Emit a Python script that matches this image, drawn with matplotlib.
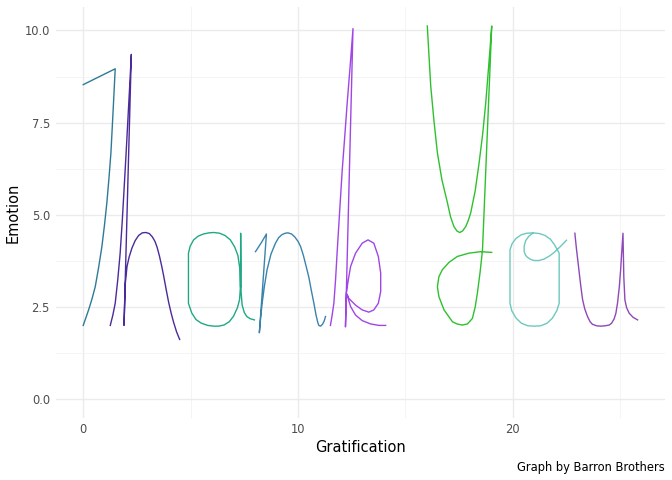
import matplotlib
matplotlib.use("Agg")
import matplotlib.pyplot as plt

# "Thank You" letters
t_x = [0.00, 1.49, 1.45, 1.41, 1.35, 1.29, 1.20, 1.10, 0.99, 0.87, 0.72, 0.56,
       0.40, 0.25, 0.12, 0.00]
t_y = [8.53, 8.96, 8.50, 8.03, 7.35, 6.68, 6.00, 5.32, 4.72, 4.14, 3.58, 3.05,
       2.70, 2.42, 2.20, 2.00]

h_x = [1.26, 1.38, 1.49, 1.61, 1.72, 1.82, 1.91, 2.00, 2.08, 2.16, 2.24, 1.90,
       1.93, 1.96, 2.04, 2.14, 2.27, 2.42, 2.58, 2.75, 2.92, 3.08, 3.22, 3.34,
       3.44, 3.55, 3.65, 3.74, 3.86, 3.98, 4.10, 4.21, 4.35, 4.49]
h_y = [2.00, 2.28, 2.60, 3.25, 3.96, 4.85, 5.77, 6.70, 7.58, 8.45, 9.35, 2.00,
       2.60, 3.14, 3.60, 3.86, 4.10, 4.30, 4.44, 4.51, 4.52, 4.49, 4.40, 4.28,
       4.12, 3.88, 3.62, 3.36, 2.98, 2.62, 2.32, 2.08, 1.82, 1.62]

a_x = [7.32, 7.29, 7.20, 7.05, 6.85, 6.60, 6.35, 6.08, 5.85, 5.60, 5.35, 5.14,
       4.98, 4.90, 4.90, 5.05, 5.25, 5.50, 5.80, 6.08, 6.30, 6.55, 6.80, 7.00,
       7.18, 7.28, 7.32, 7.33, 7.33, 7.35, 7.40, 7.50, 7.62, 7.78, 7.97]
a_y = [3.05, 3.55, 3.90, 4.13, 4.32, 4.44, 4.50, 4.52, 4.51, 4.48, 4.42, 4.32,
       4.15, 3.96, 2.60, 2.34, 2.16, 2.06, 2.00, 1.98, 1.98, 2.01, 2.10, 2.25,
       2.48, 2.70, 3.05, 3.60, 4.50, 2.90, 2.55, 2.35, 2.24, 2.18, 2.15]

n_x = [8.02, 8.30, 8.53, 8.20, 8.26, 8.33, 8.44, 8.56, 8.74, 8.95, 9.10, 9.25,
       9.40, 9.53, 9.70, 9.85, 10.00, 10.12, 10.25, 10.38, 10.50, 10.62, 10.74,
       10.84, 10.92, 10.97, 11.05, 11.14, 11.22, 11.28]
n_y = [4.00, 4.25, 4.48, 1.80, 2.20, 2.60, 3.08, 3.51, 3.93, 4.23, 4.38, 4.46,
       4.50, 4.51, 4.48, 4.40, 4.28, 4.14, 3.90, 3.60, 3.32, 2.95, 2.60,
       2.28, 2.08, 2.00, 1.98, 2.03, 2.12, 2.24]

k_x = [11.51, 11.59, 11.67, 11.75, 11.82, 11.94, 12.06, 12.18, 12.29, 12.43,
       12.56, 12.21, 12.25, 12.34, 12.45, 12.68, 12.99, 13.26, 13.53, 13.74,
       13.85, 13.85, 13.74, 13.53, 13.30, 12.99, 12.68, 12.37, 12.28, 12.36,
       12.45, 12.68, 12.99, 13.38, 13.77, 14.08]
k_y = [2.00, 2.28, 2.60, 3.25, 3.96, 5.10, 6.22, 7.15, 8.03, 9.05,
       10.05, 1.96, 2.87, 3.23, 3.60, 3.96, 4.23, 4.32, 4.23, 3.87,
       3.42, 2.92, 2.60, 2.42, 2.36, 2.42, 2.55, 2.73, 2.85, 2.68,
       2.51, 2.28, 2.13, 2.04, 2.00, 2.00]

y_x = [16.02, 16.10, 16.18, 16.33, 16.49, 16.70, 16.96, 17.10, 17.26, 17.40,
       17.53, 17.66, 17.81, 17.93, 18.04, 18.25, 18.43, 18.60, 18.74, 18.88,
       19.02, 18.59, 18.48, 18.35, 18.25, 18.12, 17.89, 17.65, 17.40, 17.19,
       16.80, 16.56, 16.49, 16.56, 16.72, 17.03, 17.42, 17.96, 18.51, 19.02]
y_y = [10.12, 9.30, 8.49, 7.55, 6.68, 5.95, 5.32, 4.95, 4.68, 4.56,
       4.52, 4.56, 4.68, 4.85, 5.05, 5.65, 6.40, 7.20, 8.03, 9.05,
       10.12, 4.05, 3.45, 2.87, 2.50, 2.19, 2.04, 2.01, 2.04, 2.10,
       2.42, 2.78, 3.05, 3.32, 3.51, 3.71, 3.87, 3.96, 4.00, 3.98]

o_x = [20.95, 21.25, 21.50, 21.75, 21.95, 22.16, 22.16, 22.05, 21.85, 21.60,
       21.30, 20.99, 20.70, 20.40, 20.15, 19.95, 19.87, 19.87, 19.97, 20.15,
       20.40, 20.65, 20.95, 20.75, 20.60, 20.53, 20.53, 20.60, 20.68, 20.83,
       20.99, 21.22, 21.46, 21.70, 21.93, 22.20, 22.50]
o_y = [4.51, 4.49, 4.44, 4.34, 4.18, 3.96, 2.60, 2.40, 2.20, 2.06,
       1.99, 1.98, 1.99, 2.06, 2.20, 2.40, 2.60, 4.05, 4.22, 4.36,
       4.46, 4.50, 4.51, 4.42, 4.30, 4.15, 4.00, 3.90, 3.85, 3.79,
       3.76, 3.76, 3.80, 3.88, 3.98, 4.13, 4.31]

u_x = [22.89, 22.96, 23.03, 23.10, 23.17, 23.25, 23.35, 23.48, 23.60, 23.71,
       23.90, 24.10, 24.30, 24.49, 24.60, 24.72, 24.80, 24.88, 24.96, 25.02,
       25.07, 25.13, 25.15, 25.17, 25.22, 25.30, 25.42, 25.60, 25.81]
u_y = [4.50, 4.10, 3.75, 3.40, 3.05, 2.70, 2.45, 2.24, 2.10, 2.03,
       1.99, 1.98, 1.99, 2.01, 2.06, 2.18, 2.33, 2.62, 3.05, 3.50,
       3.96, 4.50, 3.90, 3.30, 2.69, 2.48, 2.33, 2.22, 2.15]

letters = [
    (t_x, t_y, "#2E7A96"),
    (h_x, h_y, "#4B2A9B"),
    (a_x, a_y, "#20A884"),
    (n_x, n_y, "#3A84AC"),
    (k_x, k_y, "#A046E6"),
    (y_x, y_y, "#2EC12E"),
    (o_x, o_y, "#6CC9BE"),
    (u_x, u_y, "#8D49B8"),
]

x_ticks = [0, 10, 20]
y_ticks = [0.0, 2.5, 5.0, 7.5, 10.0]


def main():
    fig = plt.figure(figsize=(6.72, 4.8), dpi=100)
    ax = fig.add_axes([0.0826, 0.130, 0.9074, 0.855])

    for xs, ys, col in letters:
        ax.plot(xs, ys, color=col, linewidth=1.0, solid_joinstyle="round")

    # minimal theme: only grey grid, no frame
    ax.set_xlim(-1.29, 27.1)
    ax.set_ylim(-0.5, 10.63)
    ax.set_xticks(x_ticks)
    ax.set_xticklabels([str(v) for v in x_ticks])
    ax.set_yticks(y_ticks)
    ax.set_yticklabels([f"{v:.1f}" for v in y_ticks])
    ax.set_xticks([5, 15, 25], minor=True)
    ax.set_yticks([1.25, 3.75, 6.25, 8.75], minor=True)
    ax.grid(True, which="major", color="#EBEBEB", linewidth=1.0)
    ax.grid(True, which="minor", color="#F3F3F3", linewidth=0.6)
    ax.set_axisbelow(True)
    for sp in ax.spines.values():
        sp.set_visible(False)
    ax.tick_params(which="both", length=0, labelsize=8.3, labelcolor="#4D4D4D", pad=4)

    ax.set_xlabel("Gratification", fontsize=10.5, color="black", labelpad=3)
    ax.set_ylabel("Emotion", fontsize=10.5, color="black", labelpad=3)
    fig.text(0.9896, 0.013, "Graph by Barron Brothers", ha="right", va="bottom",
             fontsize=8.3, color="black")

    fig.savefig("out.png", dpi=100, facecolor="white")
    plt.close(fig)


if __name__ == "__main__":
    main()
